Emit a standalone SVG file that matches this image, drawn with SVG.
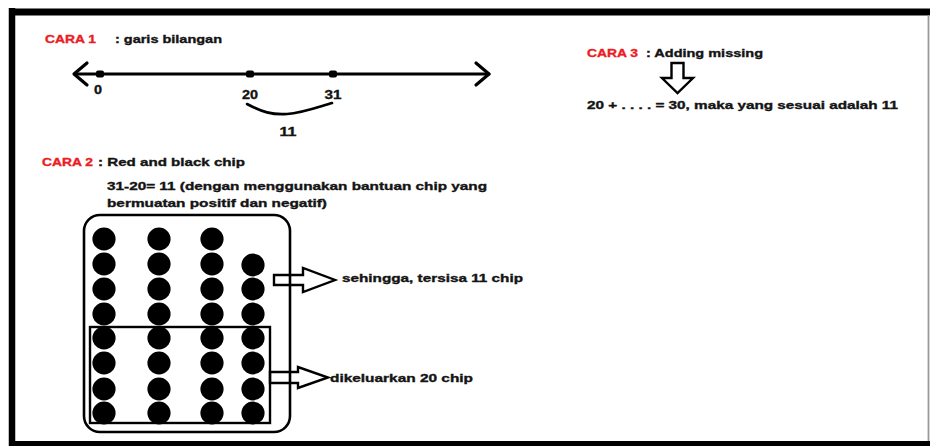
<svg xmlns="http://www.w3.org/2000/svg" width="930" height="446" viewBox="0 0 930 446">
  <style>
    text { font-family: "Liberation Sans", Arial, sans-serif; font-weight: bold; font-size: 11px; fill: #141414; stroke: #141414; stroke-width: 0.35; }
    .red { fill: #ec1c24; stroke: #ec1c24; }
    .num { font-size: 12px; text-anchor: middle; }
    .ln { stroke: #000; fill: none; stroke-linecap: round; stroke-linejoin: round; }
    .chip { fill: #000; }
    .hollow { fill: none; stroke: #000; stroke-width: 2.4; stroke-linejoin: miter; }
  </style>
  <defs>
    <ellipse id="chip" class="chip" rx="11.6" ry="11.4"/>
  </defs>

  <!-- page background and frame -->
  <rect width="930" height="446" fill="#fff"/>
  <g id="frame">
    <line x1="12" y1="8" x2="12" y2="446" stroke="#000" stroke-width="6.5"/>
    <line x1="9" y1="12" x2="930" y2="12" stroke="#000" stroke-width="7"/>
    <line x1="9" y1="444" x2="930" y2="444" stroke="#000" stroke-width="6"/>
    <line x1="928.5" y1="15" x2="928.5" y2="441" stroke="#9a9a9a" stroke-width="1.8"/>
  </g>

  <!-- method 1: number line -->
  <g id="cara1">
    <text x="45" y="43" class="red" textLength="51" lengthAdjust="spacingAndGlyphs">CARA 1</text>
    <text x="115" y="43" textLength="107" lengthAdjust="spacingAndGlyphs">: garis bilangan</text>
    <line class="ln" x1="75" y1="74" x2="489" y2="74" stroke-width="3"/>
    <polyline class="ln" points="87,63 74,74 87,85" stroke-width="3.2"/>
    <polyline class="ln" points="476,63 489,74 476,85" stroke-width="3.2"/>
    <rect x="96" y="70.5" width="8" height="7" rx="2" fill="#000"/>
    <rect x="246" y="70.5" width="8" height="7" rx="2" fill="#000"/>
    <rect x="329" y="70.5" width="8" height="7" rx="2" fill="#000"/>
    <text x="98" y="94" class="num" textLength="8" lengthAdjust="spacingAndGlyphs">0</text>
    <text x="250" y="99" class="num" textLength="16" lengthAdjust="spacingAndGlyphs">20</text>
    <text x="333" y="99" class="num" textLength="17" lengthAdjust="spacingAndGlyphs">31</text>
    <path class="ln" d="M247,104 C262,112 272,115 287,114 C302,113 318,107 332,103" stroke-width="2.6"/>
    <text x="288" y="136" class="num" textLength="17" lengthAdjust="spacingAndGlyphs">11</text>
  </g>

  <!-- method 3: adding missing -->
  <g id="cara3">
    <text x="587" y="57" class="red" textLength="51" lengthAdjust="spacingAndGlyphs">CARA 3</text>
    <text x="646" y="57" textLength="117" lengthAdjust="spacingAndGlyphs">: Adding missing</text>
    <polygon class="hollow" points="671.5,63 683.5,63 683.5,78 693,78 677.5,93 662,78 671.5,78" stroke-width="3"/>
    <text x="587" y="109" textLength="311" lengthAdjust="spacingAndGlyphs">20 + . . . . = 30, maka yang sesuai adalah 11</text>
  </g>

  <!-- method 2: red and black chips -->
  <g id="cara2">
    <text x="42" y="166" class="red" textLength="51" lengthAdjust="spacingAndGlyphs">CARA 2</text>
    <text x="98" y="166" textLength="147" lengthAdjust="spacingAndGlyphs">: Red and black chip</text>
    <text x="107" y="190" textLength="380" lengthAdjust="spacingAndGlyphs">31-20= 11 (dengan menggunakan bantuan chip yang</text>
    <text x="107" y="207" textLength="220" lengthAdjust="spacingAndGlyphs">bermuatan positif dan negatif)</text>
  </g>

  <g id="chip-box">
    <!-- columns of chips: three full columns of 8, one of 7 -->
    <g id="chips">
      <use href="#chip" x="104" y="239"/><use href="#chip" x="159" y="239"/><use href="#chip" x="212" y="239"/>
      <use href="#chip" x="104" y="264"/><use href="#chip" x="159" y="264"/><use href="#chip" x="212" y="264"/><use href="#chip" x="253" y="265"/>
      <use href="#chip" x="104" y="289"/><use href="#chip" x="159" y="289"/><use href="#chip" x="212" y="289"/><use href="#chip" x="253" y="289"/>
      <use href="#chip" x="104" y="314"/><use href="#chip" x="159" y="314"/><use href="#chip" x="212" y="314"/><use href="#chip" x="253" y="314"/>
      <use href="#chip" x="104" y="338"/><use href="#chip" x="159" y="338"/><use href="#chip" x="212" y="338"/><use href="#chip" x="253" y="338"/>
      <use href="#chip" x="104" y="363"/><use href="#chip" x="159" y="363"/><use href="#chip" x="212" y="363"/><use href="#chip" x="253" y="363"/>
      <use href="#chip" x="104" y="389"/><use href="#chip" x="159" y="389"/><use href="#chip" x="212" y="389"/><use href="#chip" x="253" y="389"/>
      <use href="#chip" x="104" y="413"/><use href="#chip" x="159" y="413"/><use href="#chip" x="212" y="413"/><use href="#chip" x="253" y="413"/>
    </g>
    <rect x="84" y="215" width="206" height="217" rx="16" fill="none" stroke="#000" stroke-width="2.6"/>
    <rect id="removed" x="90" y="327" width="180" height="96" fill="none" stroke="#000" stroke-width="2.4"/>
  </g>

  <g id="labels">
    <text x="342" y="282" textLength="181" lengthAdjust="spacingAndGlyphs">sehingga, tersisa 11 chip</text>
    <text x="330" y="382" textLength="143" lengthAdjust="spacingAndGlyphs">dikeluarkan 20 chip</text>
  </g>

  <!-- hollow block arrows pointing to the labels -->
  <g id="connectors">
    <polygon class="hollow" points="274,275 303,275 303,268 335,280 303,292 303,285 274,285"/>
    <polygon class="hollow" points="270,372 298,372 298,367 328,377.5 298,388 298,383 270,383"/>
  </g>
</svg>
